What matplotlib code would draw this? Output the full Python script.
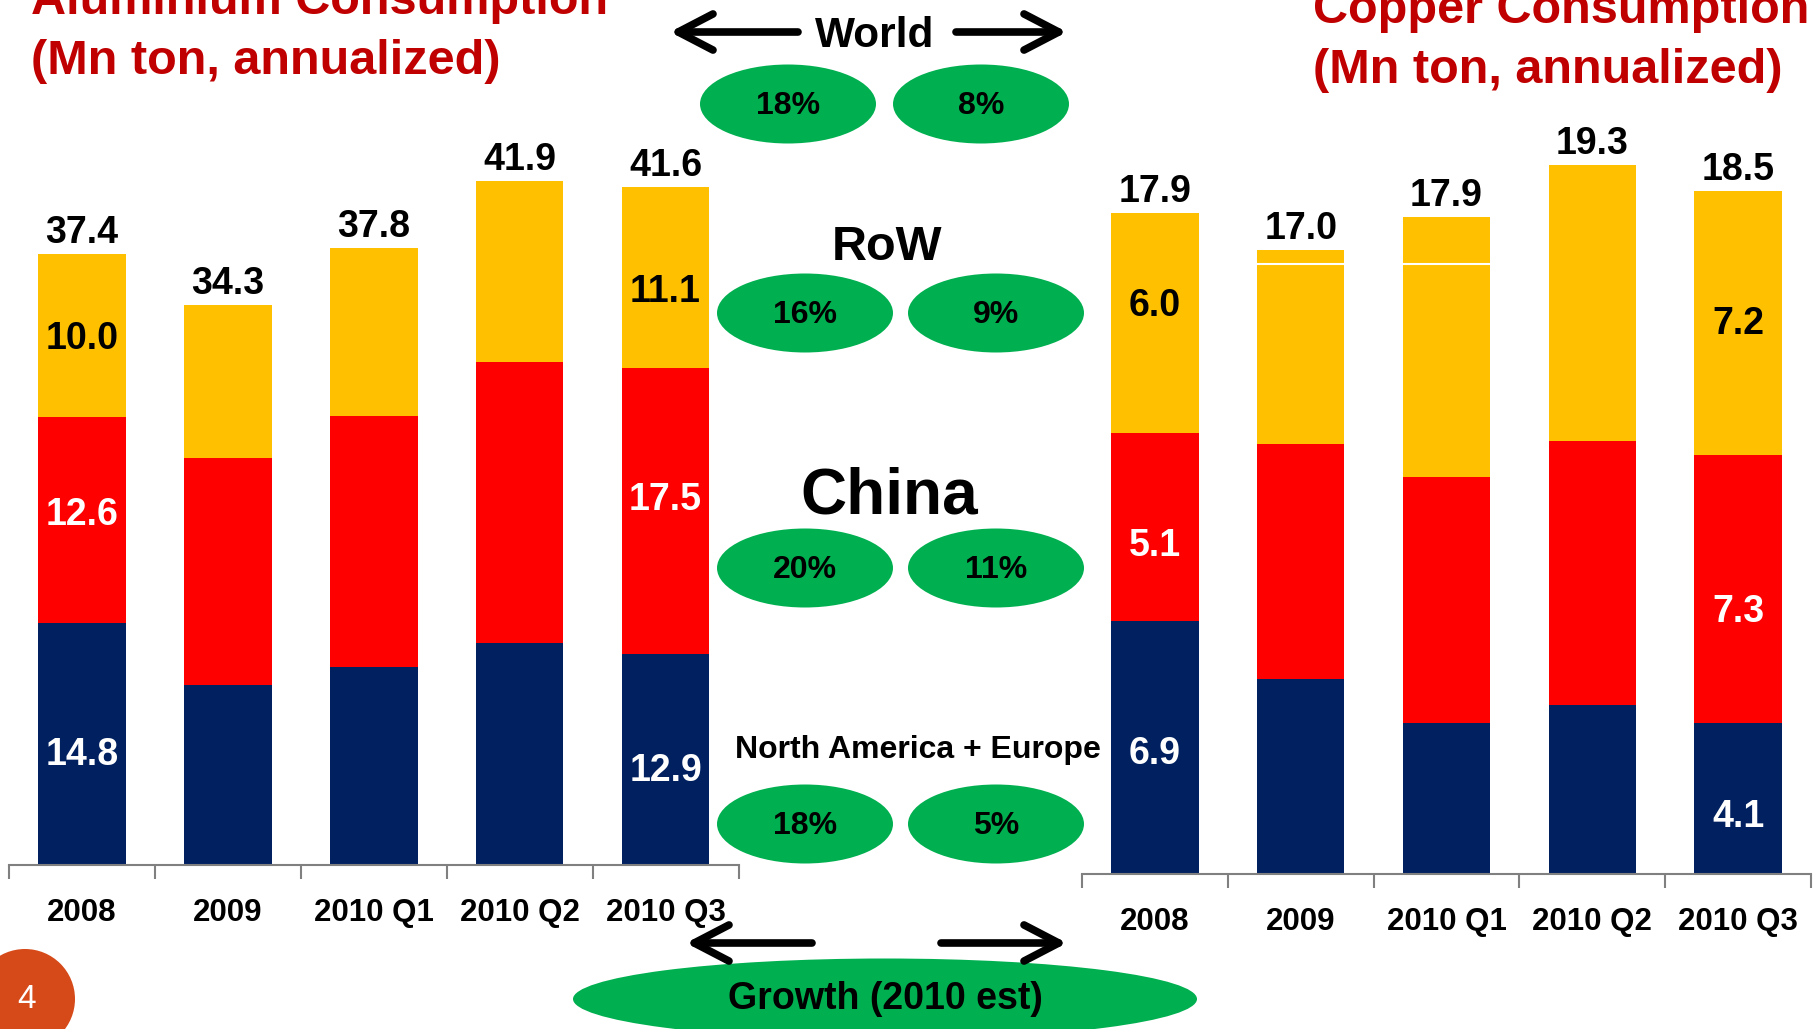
import numpy as np
import matplotlib.pyplot as plt
from matplotlib.patches import Ellipse, Circle

plt.rcParams['font.family'] = ['Liberation Sans', 'DejaVu Sans']
plt.rcParams['font.weight'] = 'bold'

periods = ['2008', '2009', '2010 Q1', '2010 Q2', '2010 Q3']

# aluminium, Mn ton annualized
al_nae = [14.8, 11.0, 12.1, 13.6, 12.9]
al_china = [12.6, 13.9, 15.4, 17.2, 17.5]
al_row = [10.0, 9.4, 10.3, 11.1, 11.1]
al_total = [37.4, 34.3, 37.8, 41.9, 41.6]

# copper, Mn ton annualized
cu_nae = [6.9, 5.3, 4.1, 4.6, 4.1]
cu_china = [5.1, 6.4, 6.7, 7.2, 7.3]
cu_row = [6.0, 5.3, 7.1, 7.5, 7.2]
cu_total = [17.9, 17.0, 17.9, 19.3, 18.5]
cu_split = [np.nan, 16.6, 16.6, np.nan, np.nan]

labelled = [0, 4]

growth_rows = ['World', 'RoW', 'China', 'North America + Europe']
growth_al = ['18%', '16%', '20%', '18%']
growth_cu = ['8%', '9%', '11%', '5%']

NAVY = '#002060'
RED = '#FF0000'
GOLD = '#FFC000'
GREEN = '#00B050'
TITLE = '#C00000'

# nudges (points) for the in-bar labels, as placed on the slide: [first, last] x [nae, china, row]
AL_NUDGE = [(-8, 4, -2), (-8, 8, -10)]
CU_NUDGE = [(-5, -14, 12), (-13, -16, -1)]

W, H = 1818, 1029
fig = plt.figure(figsize=(W / 100, H / 100), dpi=100)


def stacked(ax, nae, china, row, total, ymax, nudge):
    x = np.arange(len(periods))
    b1 = np.array(nae)
    b2 = b1 + np.array(china)
    ax.bar(x, nae, 0.6, color=NAVY)
    ax.bar(x, china, 0.6, bottom=b1, color=RED)
    ax.bar(x, row, 0.6, bottom=b2, color=GOLD)
    for k, i in enumerate(labelled):
        dn, dc, dr = nudge[k]
        ax.annotate(f'{nae[i]:.1f}', (x[i], nae[i] / 2), xytext=(0, dn), textcoords='offset points',
                    color='white', ha='center', va='center', fontsize=27)
        ax.annotate(f'{china[i]:.1f}', (x[i], b1[i] + china[i] / 2), xytext=(0, dc), textcoords='offset points',
                    color='white', ha='center', va='center', fontsize=27)
        ax.annotate(f'{row[i]:.1f}', (x[i], b2[i] + row[i] / 2), xytext=(0, dr), textcoords='offset points',
                    color='black', ha='center', va='center', fontsize=27)
    for i, t in enumerate(total):
        ax.annotate(f'{t:.1f}', (x[i], b2[i] + row[i]), xytext=(0, 15), textcoords='offset points',
                    ha='center', va='center', fontsize=27)
    ax.set_xlim(-0.5, len(periods) - 0.5)
    ax.set_ylim(0, ymax)
    ax.set_xticks(x)
    ax.set_xticklabels(periods, fontsize=22.5, fontweight='bold')
    ax.set_xticks(np.arange(len(periods) + 1) - 0.5, minor=True)
    ax.tick_params(axis='x', which='major', length=0, pad=24)
    ax.tick_params(axis='x', which='minor', length=10, width=1.5, color='#808080')
    ax.set_yticks([])
    for s in ['top', 'left', 'right']:
        ax.spines[s].set_visible(False)
    ax.spines['bottom'].set_color('#808080')
    ax.spines['bottom'].set_linewidth(1.5)
    ax.patch.set_alpha(0)
    return x


ax1 = fig.add_axes([9 / W, 164 / H, 729.5 / W, 735 / H])
stacked(ax1, al_nae, al_china, al_row, al_total, 45, AL_NUDGE)

ax2 = fig.add_axes([1082 / W, 155 / H, 729 / W, 734.6 / H])
x2 = stacked(ax2, cu_nae, cu_china, cu_row, cu_total, 20, CU_NUDGE)
ax2.hlines(cu_split, x2 - 0.3, x2 + 0.3, color='white', lw=1.5)

# overlay in pixel coordinates for the annotations
ov = fig.add_axes([0, 0, 1, 1])
ov.set_xlim(0, W)
ov.set_ylim(H, 0)
ov.axis('off')
ov.patch.set_alpha(0)

ov.text(31, 14, 'Aluminium Consumption', color=TITLE, fontsize=35, va='baseline')
ov.text(31, 74, '(Mn ton, annualized)', color=TITLE, fontsize=35, va='baseline')
ov.text(1313, 23, 'Copper Consumption', color=TITLE, fontsize=35, va='baseline')
ov.text(1313, 83, '(Mn ton, annualized)', color=TITLE, fontsize=35, va='baseline')

row_y = [36, 247, 496, 750]
row_size = [30.5, 35, 46, 23]
row_x = [875, 887, 889, 918]
ell_y = [104, 313, 568, 824]
ell_x = [(788, 981), (805, 996), (805, 996), (805, 996)]
for i, name in enumerate(growth_rows):
    ov.text(row_x[i], row_y[i], name, fontsize=row_size[i], ha='center', va='center')
    for cx, lab in zip(ell_x[i], [growth_al[i], growth_cu[i]]):
        ov.add_patch(Ellipse((cx, ell_y[i]), 176, 79, color=GREEN, lw=0))
        ov.text(cx, ell_y[i] + 2, lab, fontsize=23, ha='center', va='center')

arrow = dict(arrowstyle='->, head_length=2.5, head_width=1.3', lw=5.5, color='black',
             shrinkA=0, shrinkB=0, mutation_scale=10, capstyle='round', joinstyle='round')
ov.annotate('', xy=(670, 32), xytext=(798, 32), arrowprops=arrow)
ov.annotate('', xy=(1067, 32), xytext=(956, 32), arrowprops=arrow)
ov.annotate('', xy=(686, 943), xytext=(812, 943), arrowprops=arrow)
ov.annotate('', xy=(1067, 943), xytext=(941, 943), arrowprops=arrow)

ov.add_patch(Ellipse((885, 999), 624, 81, color=GREEN, lw=0))
ov.text(885, 999, 'Growth (2010 est)', fontsize=27, ha='center', va='center')

ov.add_patch(Circle((25, 999), 50, color='#D64A1A', lw=0))
ov.text(27, 999, '4', color='white', fontsize=24, fontweight='normal', ha='center', va='center')

fig.savefig('out.png', dpi=100)
